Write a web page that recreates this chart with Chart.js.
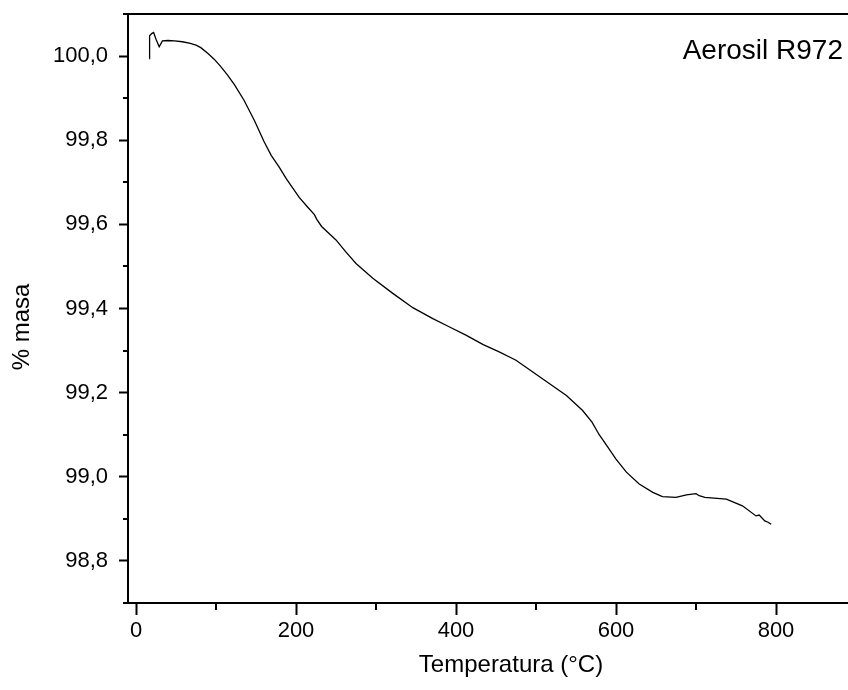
<!DOCTYPE html>
<html>
<head>
<meta charset="utf-8">
<script src="https://cdn.jsdelivr.net/npm/chart.js@4.4.1/dist/chart.umd.min.js"></script>
<style>
html,body{margin:0;padding:0;background:#fff;overflow:hidden}
canvas{display:block}
</style>
</head>
<body>
<canvas id="c" width="848" height="690"></canvas>
<script>
// ---- data ----
const temperatura = [16.5, 17, 20, 22, 25, 29, 33, 40, 48, 58, 68, 75, 81, 90, 98, 106, 114, 123, 135, 148,
  154, 160, 169, 179, 188, 204, 215, 223, 226, 232, 250, 262, 275, 296, 321, 346, 371, 392, 413, 434,
  454, 475, 496, 517, 538, 558, 570, 579, 590, 600, 613, 629, 646, 658, 675, 688, 700, 704, 711, 738,
  758, 775, 779, 786, 790, 794];
const masa = [99.994, 100.048, 100.054, 100.056, 100.040, 100.022, 100.036, 100.037, 100.036, 100.034,
  100.030, 100.026, 100.020, 100.006, 99.992, 99.975, 99.956, 99.932, 99.895, 99.847,
  99.822, 99.797, 99.764, 99.736, 99.708, 99.664, 99.640, 99.623, 99.612, 99.595,
  99.563, 99.535, 99.507, 99.472, 99.436, 99.402, 99.376, 99.356, 99.336, 99.314,
  99.297, 99.277, 99.249, 99.221, 99.193, 99.158, 99.130, 99.100, 99.070, 99.042,
  99.011, 98.983, 98.963, 98.953, 98.951, 98.957, 98.960, 98.955, 98.951, 98.947,
  98.931, 98.907, 98.909, 98.895, 98.892, 98.887];
const xTicks = [0, 200, 400, 600, 800];
const xMinorTicks = [100, 300, 500, 700];
const yTicks = [98.8, 99.0, 99.2, 99.4, 99.6, 99.8, 100.0];
const yMinorTicks = [98.7, 98.9, 99.1, 99.3, 99.5, 99.7, 99.9, 100.1];
const chartLabel = 'Aerosil R972';
const xTitle = 'Temperatura (°C)';
const yTitle = '% masa';

const FONT = '"Liberation Sans", Arial, sans-serif';

const decor = {
  id: 'decor',
  afterDraw(chart) {
    const c = chart.ctx, xs = chart.scales.x, ys = chart.scales.y, a = chart.chartArea;
    c.save();
    c.strokeStyle = '#000';
    c.lineWidth = 2;
    xMinorTicks.forEach(v => {
      const p = Math.round(xs.getPixelForValue(v));
      c.beginPath(); c.moveTo(p, a.bottom); c.lineTo(p, a.bottom + 7); c.stroke();
    });
    yMinorTicks.forEach(v => {
      const p = Math.round(ys.getPixelForValue(v));
      c.beginPath(); c.moveTo(a.left, p); c.lineTo(a.left - 5, p); c.stroke();
    });
    c.fillStyle = '#000';
    c.textBaseline = 'middle';
    c.textAlign = 'center';
    c.font = '24px ' + FONT;
    c.fillText(xTitle, 511, 665);
    c.save();
    c.translate(22, 327);
    c.rotate(-Math.PI / 2);
    c.fillText(yTitle, 0, 0);
    c.restore();
    c.font = '28px ' + FONT;
    c.textAlign = 'right';
    c.fillText(chartLabel, 843, 51);
    c.restore();
  }
};

new Chart(document.getElementById('c'), {
  type: 'line',
  data: {
    datasets: [{
      data: temperatura.map((t, i) => ({x: t, y: masa[i]})),
      borderColor: '#000',
      borderWidth: 1.3,
      pointRadius: 0,
      tension: 0,
      fill: false
    }]
  },
  options: {
    responsive: false,
    animation: false,
    devicePixelRatio: 1,
    layout: {padding: 0},
    plugins: {legend: {display: false}, tooltip: {enabled: false}},
    scales: {
      x: {
        type: 'linear', position: 'bottom', min: -10, max: 890,
        afterFit(s) { s.height = 87; s.paddingLeft = 0; s.paddingRight = 0; },
        afterBuildTicks(s) { s.ticks = xTicks.map(v => ({value: v})); },
        border: {display: true, color: '#000', width: 2},
        grid: {display: true, drawOnChartArea: false, drawTicks: true, tickLength: 12, tickWidth: 2, tickColor: '#000'},
        ticks: {padding: 3, color: '#000', font: {family: FONT, size: 22}, maxRotation: 0, autoSkip: false,
          callback: v => String(v)}
      },
      xTop: {
        type: 'linear', position: 'top', axis: 'x', min: -10, max: 890,
        afterFit(s) { s.height = 14; s.paddingLeft = 0; s.paddingRight = 0; },
        border: {display: true, color: '#000', width: 2},
        grid: {display: false},
        ticks: {display: false}
      },
      y: {
        type: 'linear', position: 'left', min: 98.7, max: 100.1,
        afterFit(s) { s.width = 128; s.paddingTop = 0; s.paddingBottom = 0; },
        afterBuildTicks(s) { s.ticks = yTicks.map(v => ({value: v})); },
        border: {display: true, color: '#000', width: 2},
        grid: {display: true, drawOnChartArea: false, drawTicks: true, tickLength: 9, tickWidth: 2, tickColor: '#000'},
        ticks: {padding: 11, color: '#000', font: {family: FONT, size: 22}, autoSkip: false,
          callback: v => Number(v).toFixed(1).replace('.', ',')}
      }
    }
  },
  plugins: [decor]
});
</script>
</body>
</html>
